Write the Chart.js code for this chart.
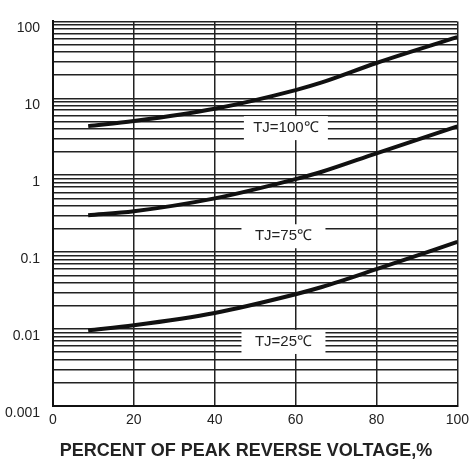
<!DOCTYPE html>
<html>
<head>
<meta charset="utf-8">
<script src="https://cdn.jsdelivr.net/npm/chart.js@4/dist/chart.umd.min.js"></script>
<style>
body{margin:0;background:#fff;}
#wrap{width:475px;height:461px;}
</style>
</head>
<body>
<div id="wrap"><canvas id="myChart" width="475" height="461"></canvas></div>
<script>
'use strict';

// percent of peak reverse voltage
let voltage = [8.7, 20, 40, 60, 66.5, 80, 100];
// leakage current per junction temperature
let tj100 = [4.35, 5.06, 7.31, 12.8, 16.1, 28.8, 62.4];
let tj75 = [0.302, 0.34, 0.50, 0.89, 1.11, 1.93, 4.31];
let tj25 = [0.0096, 0.0112, 0.0162, 0.0284, 0.0352, 0.060, 0.136];

let xTicks = [0, 20, 40, 60, 80, 100];
let decades = [0.001, 0.01, 0.1, 1, 10, 100];
let curveLabels = ['TJ=100\u2103', 'TJ=75\u2103', 'TJ=25\u2103'];
let labelX = [57.6, 57, 57];
let labelY = [4.1, 0.161, 0.0068];
let xTitle = 'PERCENT OF PEAK REVERSE VOLTAGE,%';

function toPoints(vals){
    let pts = [];
    for (let i = 0; i < vals.length; i++) {
        pts.push({x: voltage[i], y: vals[i]});
    }
    return pts;
}

// every 1..9 step in each decade for the log grid
let yTicks = [];
for (let d = 0; d < decades.length - 1; d++) {
    for (let m = 1; m < 10; m++) {
        yTicks.push(+(decades[d] * m).toPrecision(3));
    }
}
yTicks.push(decades[decades.length - 1]);

function isDecade(v){
    for (let i = 0; i < decades.length; i++) {
        if (Math.abs(v - decades[i]) < decades[i] * 1e-6) return true;
    }
    return false;
}

let extras = {
    id: 'extras',
    afterDraw(chart){
        let ctx = chart.ctx;
        let xs = chart.scales.x;
        let ys = chart.scales.y;
        ctx.save();
        ctx.font = '15px "Liberation Sans", Arial, sans-serif';
        ctx.textAlign = 'center';
        ctx.textBaseline = 'middle';
        for (let i = 0; i < curveLabels.length; i++) {
            let cx = xs.getPixelForValue(labelX[i]);
            let cy = ys.getPixelForValue(labelY[i]);
            ctx.fillStyle = '#fff';
            ctx.fillRect(cx - 42, cy - 12, 84, 24);
            ctx.fillStyle = '#222';
            ctx.fillText(curveLabels[i], cx, cy);
        }
        ctx.font = 'bold 18px "Liberation Sans", Arial, sans-serif';
        ctx.fillStyle = '#222';
        ctx.fillText(xTitle, 246, 451);
        ctx.restore();
    }
};

let ctx = document.getElementById('myChart').getContext('2d');
let lineStyle = {
    borderColor: '#111',
    borderWidth: 4,
    pointRadius: 0,
    fill: false,
    cubicInterpolationMode: 'monotone'
};
let myChart = new Chart(ctx, {
    type: 'line',
    data: {
        datasets: [
            Object.assign({label: curveLabels[0], data: toPoints(tj100)}, lineStyle),
            Object.assign({label: curveLabels[1], data: toPoints(tj75)}, lineStyle),
            Object.assign({label: curveLabels[2], data: toPoints(tj25)}, lineStyle)
        ]
    },
    options: {
        responsive: false,
        animation: false,
        layout: {padding: {top: 9, right: 14, left: 0, bottom: 0}},
        plugins: {legend: {display: false}, tooltip: {enabled: false}},
        scales: {
            x: {
                type: 'linear',
                min: 0,
                max: 100,
                afterBuildTicks(scale){
                    scale.ticks = xTicks.map(v => ({value: v}));
                },
                afterFit(scale){ scale.height = 55; },
                grid: {color: '#222', lineWidth: 1.5, drawTicks: false},
                border: {color: '#111', width: 2},
                ticks: {
                    padding: 6,
                    color: '#222',
                    maxRotation: 0,
                    autoSkip: false,
                    font: {family: '"Liberation Sans", Arial, sans-serif', size: 14}
                }
            },
            y: {
                type: 'logarithmic',
                min: 0.001,
                max: 100,
                afterBuildTicks(scale){
                    scale.ticks = yTicks.map(v => ({value: v}));
                },
                afterFit(scale){ scale.width = 53; },
                grid: {color: '#222', lineWidth: 1.5, drawTicks: false},
                border: {color: '#111', width: 2},
                ticks: {
                    padding: 13,
                    labelOffset: 7,
                    color: '#222',
                    autoSkip: false,
                    font: {family: '"Liberation Sans", Arial, sans-serif', size: 14},
                    callback: function(v){
                        return isDecade(v) ? String(+v.toPrecision(3)) : '';
                    }
                }
            }
        }
    },
    plugins: [extras]
});
</script>
</body>
</html>
